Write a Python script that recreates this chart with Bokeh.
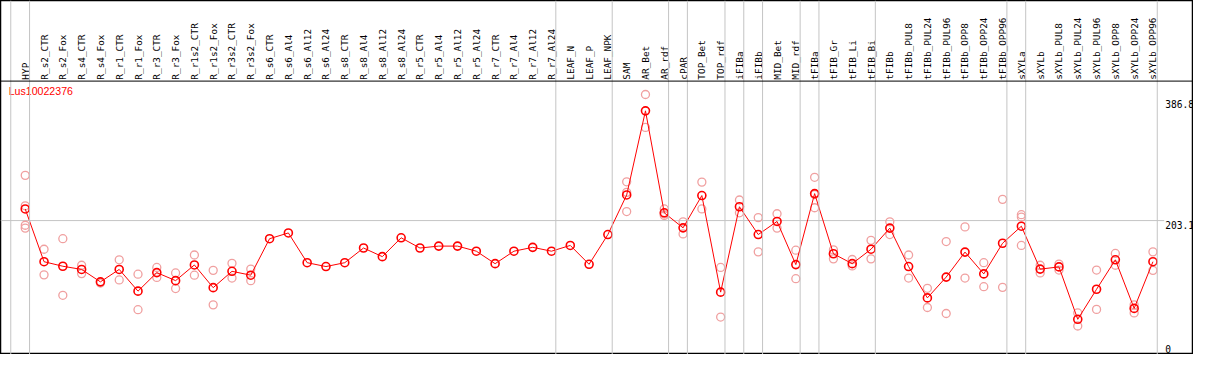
import numpy as np
from bokeh.plotting import figure
from bokeh.models import ColumnDataSource, Span
from bokeh.core.properties import value
from bokeh.embed import file_html
from bokeh.resources import INLINE

gene = "Lus10022376"

samples = ["HYP", "R_s2_CTR", "R_s2_Fox", "R_s4_CTR", "R_s4_Fox", "R_r1_CTR", "R_r1_Fox",
           "R_r3_CTR", "R_r3_Fox", "R_r1s2_CTR", "R_r1s2_Fox", "R_r3s2_CTR", "R_r3s2_Fox",
           "R_s6_CTR", "R_s6_Al4", "R_s6_Al12", "R_s6_Al24", "R_s8_CTR", "R_s8_Al4", "R_s8_Al12",
           "R_s8_Al24", "R_r5_CTR", "R_r5_Al4", "R_r5_Al12", "R_r5_Al24", "R_r7_CTR", "R_r7_Al4",
           "R_r7_Al12", "R_r7_Al24", "LEAF_N", "LEAF_P", "LEAF_NPK", "SAM", "AR_Bet", "AR_rdf",
           "cPAR", "TOP_Bet", "TOP_rdf", "iFIBa", "iFIBb", "MID_Bet", "MID_rdf", "tFIBa",
           "tFIB_Gr", "tFIB_Li", "tFIB_Bi", "tFIBb", "tFIBb_PUL8", "tFIBb_PUL24", "tFIBb_PUL96",
           "tFIBb_OPP8", "tFIBb_OPP24", "tFIBb_OPP96", "sXYLa", "sXYLb", "sXYLb_PUL8",
           "sXYLb_PUL24", "sXYLb_PUL96", "sXYLb_OPP8", "sXYLb_OPP24", "sXYLb_OPP96"]

means = [222.1, 135.9, 128.5, 123.3, 103.0, 123.3, 87.8, 118.1, 105.0, 130.6, 93.5, 120.2, 113.9,
         173.5, 182.9, 134.3, 128.0, 134.3, 158.3, 144.2, 175.0, 158.3, 161.4, 161.4, 153.1,
         132.7, 153.1, 159.4, 153.1, 162.5, 131.7, 180.3, 245.0, 382.4, 215.8, 191.2, 244.0,
         86.2, 225.7, 180.3, 201.7, 131.2, 247.2, 148.9, 132.7, 156.3, 190.8, 128.0, 76.8,
         110.8, 151.6, 116.0, 166.1, 193.9, 123.8, 127.4, 41.8, 90.9, 139.0, 59.6, 135.9]

replicates = [
    [277.0, 227.3, 195.5, 190.8], [156.3, 114.4], [173.5, 81.0], [130.1, 116.5], [101.0],
    [139.0, 106.1], [115.5, 57.5], [126.5, 110.2], [117.6, 92.0], [146.9, 113.9],
    [121.8, 65.4], [133.2, 109.2], [123.8, 105.0],
    [], [], [], [], [], [], [], [], [], [], [], [], [], [], [], [], [], [], [],
    [266.5, 249.2, 217.9], [409.1, 355.3], [222.1, 211.6, 214.0], [201.1, 181.3],
    [266.0, 222.1], [126.5, 45.5], [236.7, 215.8], [208.0, 152.0], [214.3, 190.8],
    [154.7, 108.2], [273.8, 245.6, 224.1], [155.2, 140.6], [139.5, 129.0], [170.8, 140.6],
    [201.1, 180.3], [146.9, 109.2], [92.5, 61.1], [168.8, 51.3], [192.8, 109.2],
    [134.3, 95.1], [237.8, 94.0], [212.7, 208.9, 162.5], [130.1, 117.6], [132.1, 122.3],
    [52.2, 30.9], [122.3, 58.0], [149.4, 130.1], [65.4, 52.2], [152.0, 121.8],
]

ytick_values = [0, 203.1, 386.8]
ytick_labels = ["0", "203.1", "386.8"]
group_breaks = [-1, 0, 28, 31, 34, 35, 37, 38, 39, 41, 42, 45, 52, 53, 60]

# layout constants (in data units)
X0, X1 = -1.316, 62.158
Y0, Y1 = -15.7, 562.7
HEADER_Y = 431.0
LABEL_Y = 433.4
YLAB_X = 60.65
GRID_OFF = 0.23

RED = "#FF0000"
PINK = "#F0A0A0"
GREY = "#C4C4C4"
MONO = value("DejaVu Sans Mono")

p = figure(width=1193, height=354, x_range=(X0, X1), y_range=(Y0, Y1),
           output_backend="svg", toolbar_location=None,
           x_axis_location=None, y_axis_location=None, min_border=0)
p.grid.visible = False
p.outline_line_color = "black"
p.outline_line_width = 1.5
p.background_fill_color = "white"

# vertical group separators
for b in group_breaks:
    p.add_layout(Span(location=b + GRID_OFF, dimension="height",
                      line_color=GREY, line_width=1))

# horizontal reference line
p.segment(x0=[X0], y0=[ytick_values[1]], x1=[YLAB_X - 0.05], y1=[ytick_values[1]],
          line_color=GREY, line_width=1)

# header separator
p.add_layout(Span(location=HEADER_Y, dimension="width", line_color="black", line_width=1))

idx = list(range(len(samples)))

# category labels (vertical)
p.text(x=idx, y=[LABEL_Y] * len(samples), text=samples, angle=np.pi / 2,
       text_font=MONO, text_font_size="9.4px", text_align="left",
       text_baseline="middle", text_color="black")

# replicate points
rep_x, rep_y = [], []
for i, reps in enumerate(replicates):
    for r in reps:
        rep_x.append(i)
        rep_y.append(r)
p.scatter(x=rep_x, y=rep_y, marker="circle", size=8, fill_color=None,
          line_color=PINK, line_width=1.3)

# mean line + points
src = ColumnDataSource(dict(x=idx, y=means))
p.line(x="x", y="y", source=src, line_color=RED, line_width=1)
p.scatter(x="x", y="y", source=src, marker="circle", size=8, fill_color=None,
          line_color=RED, line_width=1.6)

# y tick labels (inside, right side)
p.text(x=[YLAB_X, YLAB_X], y=ytick_values[:2], text=ytick_labels[:2],
       text_font=MONO, text_font_size="9.6px", text_align="left",
       text_baseline="top", text_color="black")
p.text(x=[YLAB_X], y=ytick_values[2:], text=ytick_labels[2:],
       text_font=MONO, text_font_size="9.6px", text_align="left",
       text_baseline="bottom", text_color="black")

# gene title
p.text(x=[-0.879], y=[404.4], text=[gene], text_font=value("Liberation Sans"),
       text_font_size="10.6px", text_align="left", text_baseline="bottom",
       text_color=RED)

open("out.html", "w").write(file_html(p, INLINE))
